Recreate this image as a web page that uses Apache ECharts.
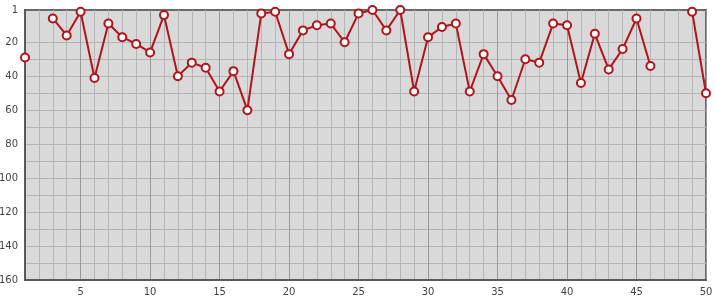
<!DOCTYPE html>
<html><head><meta charset="utf-8">
<script src="https://cdn.jsdelivr.net/npm/echarts@6/dist/echarts.min.js"></script>
<style>html,body{margin:0;padding:0;background:#fff}#c{width:715px;height:300px}</style>
</head><body><div id="c"></div>
<script>
var xValues = [1,2,3,4,5,6,7,8,9,10,11,12,13,14,15,16,17,18,19,20,21,22,23,24,25,26,27,28,29,30,31,32,33,34,35,36,37,38,39,40,41,42,43,44,45,46,47,48,49,50];
var ranks = [29,null,6,16,2,41,9,17,21,26,4,40,32,35,49,37,60,3,2,27,13,10,9,20,3,1,13,1,49,17,11,9,49,27,40,54,30,32,9,10,44,15,36,24,6,34,null,null,2,50];
var yLabelValues = [1,20,40,60,80,100,120,140,160];
var yGridValues = [20,30,40,50,60,70,80,90,100,110,120,130,140,150];

var data = xValues.map(function(x,i){ return [x, ranks[i]]; });
var chart = echarts.init(document.getElementById('c'), null, {renderer:'canvas'});
chart.setOption({
  animation:false,
  grid:{left:25,right:9,top:10,bottom:20,show:true,backgroundColor:'#d9d9d9',borderColor:'#6a6a6a',borderWidth:2,
    containLabel:false,outerBoundsMode:'none'},
  xAxis:{type:'value',min:1,max:50,interval:1,
    axisLine:{show:true,lineStyle:{color:'#5a5a5a',width:2}},
    axisTick:{show:false},
    axisLabel:{color:'#444',fontSize:10,fontFamily:'DejaVu Sans',margin:7,
      formatter:function(v){return v%5===0?String(v):'';}},
    splitLine:{show:true,lineStyle:{color:['#b5b5b5','#b5b5b5','#b5b5b5','#b5b5b5','#999999'],width:1}}
  },
  yAxis:{type:'value',inverse:true,min:1,max:160,
    axisLine:{show:true,lineStyle:{color:'#5a5a5a',width:2}},
    axisTick:{show:false,customValues:yGridValues},
    axisLabel:{color:'#444',fontSize:10,fontFamily:'DejaVu Sans',margin:7,customValues:yLabelValues},
    splitLine:{show:true,lineStyle:{color:'#b5b5b5',width:1}}
  },
  series:[{type:'line',data:data,connectNulls:false,
    lineStyle:{color:'#b0141c',width:2},
    itemStyle:{color:'#ffffff',borderColor:'#b0141c',borderWidth:2},
    symbol:'circle',symbolSize:8,showAllSymbol:true,clip:false}]
});
</script></body></html>
